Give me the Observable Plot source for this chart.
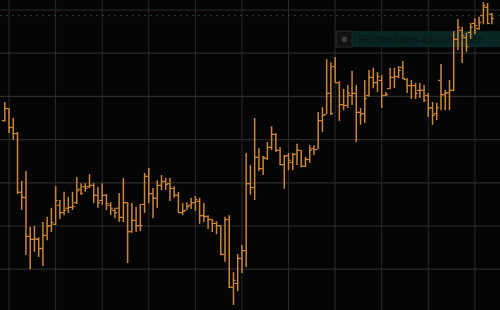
<!DOCTYPE html>
<html>
<head>
<meta charset="utf-8">
<script src="https://cdn.jsdelivr.net/npm/d3@7"></script>
<script src="https://cdn.jsdelivr.net/npm/@observablehq/plot@0.6"></script>
<style>
  html, body { margin: 0; padding: 0; background: #050505; }
  #chart { width: 500px; height: 310px; overflow: hidden; }
</style>
</head>
<body>
<div id="chart"></div>
<script>
// OHLC values (price units), one per trading bar
const opens = [134.4,137.2,132.8,131.4,117.8,116.6,107.6,106.9,106.9,104.8,107.8,110.1,110.4,114.8,113.1,114.1,114.3,115.4,118.5,119.1,119.1,119.4,117.1,115.9,117.1,114.8,113.6,114.1,112.0,115.4,108.7,111.3,110.1,115.0,121.5,117.5,116.4,119.4,120.3,119.8,118.7,117.1,113.1,113.6,114.8,115.4,115.7,112.4,112.2,111.5,110.6,110.1,103.4,111.5,95.8,96.7,102.5,104.3,119.8,118.9,125.9,123.3,125.6,128.2,131.2,127.5,124.2,126.3,124.7,126.6,127.5,123.8,125.4,127.9,127.7,134.4,135.8,140.7,146.9,143.2,138.1,137.9,140.2,140.7,136.3,136.0,140.2,144.4,143.2,143.7,140.2,141.8,144.4,144.6,146.7,143.9,142.5,142.5,141.4,141.4,140.2,137.4,136.0,143.7,140.4,140.9,141.4,153.2,155.3,153.6,154.8,156.9,155.7,158.7,160.6,159.0];
const highs = [138.6,137.2,134.9,131.6,120.3,122.6,109.7,109.9,107.3,110.8,112.0,114.1,119.1,115.9,117.8,116.6,117.8,121.2,119.8,119.8,121.9,119.8,118.9,119.8,117.3,115.4,114.1,117.5,121.0,115.4,115.2,114.3,115.0,122.2,123.3,118.7,120.5,121.7,121.0,121.0,119.1,117.8,115.2,115.4,116.4,116.8,116.4,115.2,112.4,111.5,111.0,110.1,112.0,112.4,99.2,103.4,105.5,126.8,124.0,134.9,127.9,126.1,129.3,133.0,131.4,128.2,126.3,126.8,126.8,128.9,127.5,125.9,128.6,128.6,136.3,137.4,148.5,147.8,149.0,143.4,141.6,142.5,145.8,142.5,137.2,143.7,146.0,146.5,145.5,144.8,140.9,146.5,146.5,146.9,148.1,144.1,143.7,143.0,143.0,142.5,140.7,138.6,138.4,147.4,141.4,143.7,155.0,157.8,156.0,154.6,156.9,158.0,158.3,161.7,161.5,159.2];
const lows = [134.0,131.4,129.8,117.3,113.6,103.2,99.9,103.9,102.7,100.6,106.6,108.5,110.1,111.5,112.4,112.9,113.6,115.0,117.1,117.8,118.7,115.2,114.1,114.8,113.6,112.4,111.7,110.8,110.8,101.3,108.3,108.5,108.7,112.9,115.2,111.7,114.1,118.2,118.2,115.7,116.4,112.9,112.4,113.6,113.8,113.4,110.4,110.8,109.2,108.5,108.0,103.2,101.6,95.5,91.6,94.8,99.0,100.4,117.1,115.9,122.6,121.7,125.2,127.5,127.0,124.0,118.5,122.8,122.8,124.0,123.5,123.5,124.5,126.3,127.7,131.6,135.8,135.6,143.2,134.2,136.7,137.2,137.9,129.3,133.3,133.7,139.8,141.8,140.9,137.2,140.0,141.6,141.8,144.1,143.9,140.7,139.3,139.3,139.5,138.6,135.1,133.3,134.4,136.7,136.7,136.7,141.1,150.6,147.6,150.2,153.2,154.3,155.3,156.6,156.6,156.6];
const closes = [137.2,132.8,131.4,117.8,116.6,107.6,106.9,107.1,104.8,107.8,109.9,110.8,115.9,113.1,113.6,114.3,114.5,118.2,117.5,118.7,119.4,117.1,115.4,117.1,115.2,114.1,113.1,112.0,115.4,108.7,111.3,110.1,110.1,121.5,117.5,116.4,119.4,120.3,119.6,118.7,117.1,113.1,113.4,114.5,115.4,116.1,112.4,112.2,111.5,110.6,110.1,103.4,111.5,95.8,97.4,102.5,104.3,119.8,118.9,125.9,123.3,125.9,128.2,131.2,127.5,124.2,126.1,125.2,126.6,127.5,123.8,125.4,127.5,127.7,134.4,135.6,140.7,136.0,143.2,138.1,137.9,140.7,140.7,136.3,136.0,139.5,144.4,143.2,144.6,140.2,140.4,144.4,144.6,146.0,144.1,142.5,142.5,140.7,141.4,139.1,137.2,135.6,137.4,140.4,140.7,141.4,153.2,156.0,154.1,151.5,156.0,156.4,157.1,161.0,156.9,158.0];

// grid tick values
const xGridTicks = [1, 12, 23, 34, 45, 56, 67, 78, 89, 100, 111];
const yGridTicks = [100, 110, 120, 130, 140, 150, 160];

// reference (dashed) level and the overlay label
const dashLevel = [158.7];
const labelText = ["Rechteckiges Ausschneiden"];
const labelBox = [{x1: 78.4, x2: 118, y1: 151.3, y2: 155.0}];
const labelIconBox = [{x1: 78.4, x2: 82.1, y1: 151.3, y2: 155.0}];
const labelIcon = [{x: 80.2, y: 153.2}];
const labelAnchor = [{x: 83.5, y: 153.15, text: labelText[0]}];

const bars = opens.map((o, i) => ({i, open: o, high: highs[i], low: lows[i], close: closes[i]}));

const orange = "#cc863b";
const tickLen = 0.62;

const chart = Plot.plot({
  width: 500,
  height: 310,
  marginTop: 0, marginBottom: 0, marginLeft: 0, marginRight: 0,
  style: {background: "#050505"},
  x: {domain: [-1.015, 117.05], axis: null},
  y: {domain: [90.44, 162.2], axis: null},
  marks: [
    Plot.ruleX(xGridTicks, {stroke: "#2b2b2b", strokeWidth: 1}),
    Plot.ruleY(yGridTicks, {stroke: "#2b2b2b", strokeWidth: 1.2}),
    Plot.ruleY(dashLevel, {stroke: "#1c4645", strokeWidth: 1, strokeDasharray: "2,4"}),
    Plot.rect(labelBox, {x1: "x1", x2: "x2", y1: "y1", y2: "y2", fill: "#082624"}),
    Plot.rect(labelIconBox, {x1: "x1", x2: "x2", y1: "y1", y2: "y2", fill: "#111111", stroke: "#262626", strokeWidth: 1}),
    Plot.dot(labelIcon, {x: "x", y: "y", r: 2.8, fill: "#3a3a3a"}),
    Plot.text(labelAnchor, {x: "x", y: "y", text: "text", textAnchor: "start", fontSize: 10, fill: "#0c1312", fontFamily: "Liberation Sans, Arial, sans-serif"}),
    Plot.ruleX(bars, {x: "i", y1: "low", y2: "high", stroke: orange, strokeWidth: 1.5}),
    Plot.ruleY(bars, {y: "open", x1: d => d.i - tickLen, x2: "i", stroke: orange, strokeWidth: 1.2}),
    Plot.ruleY(bars, {y: "close", x1: "i", x2: d => d.i + tickLen, stroke: orange, strokeWidth: 1.2})
  ]
});
document.getElementById("chart").appendChild(chart);
</script>
</body>
</html>
